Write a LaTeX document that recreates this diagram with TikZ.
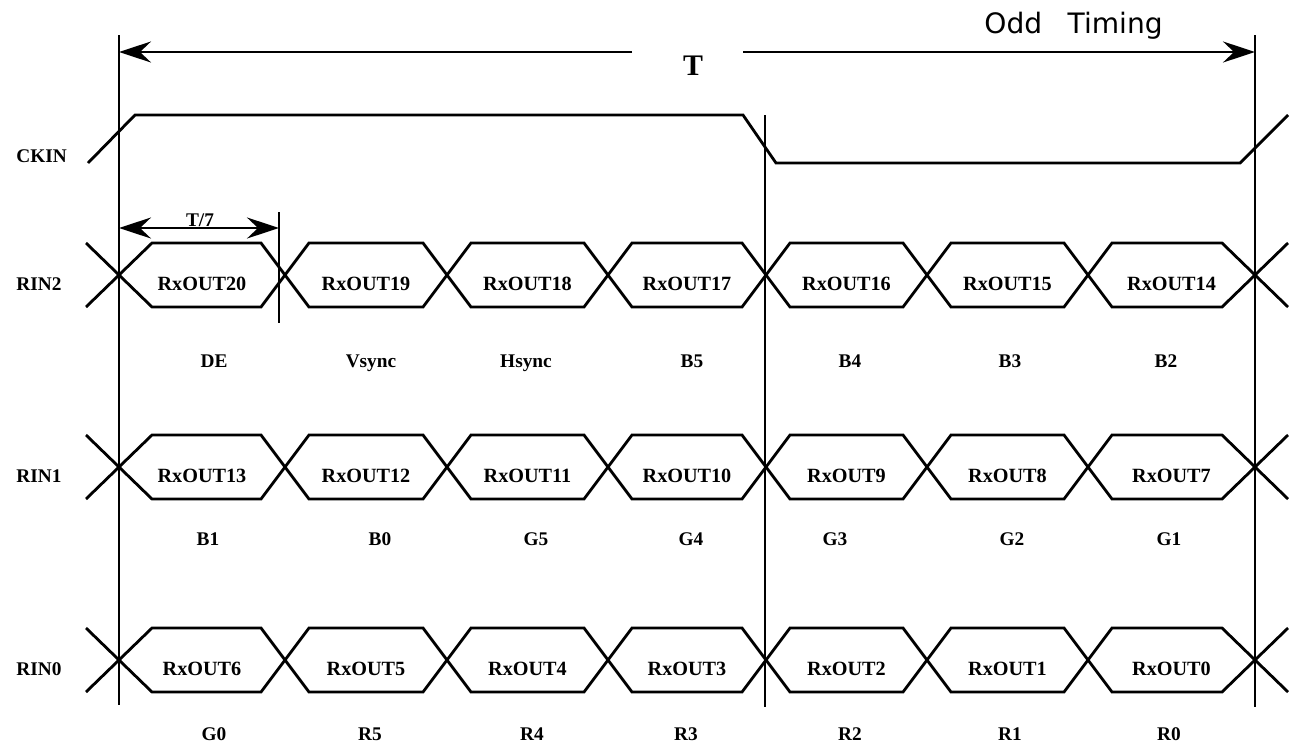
\documentclass[tikz,border=0pt]{standalone}
\usepackage{fontspec}
\setmainfont{Liberation Serif}
\newfontfamily\oddfont{DejaVu Sans}
\usetikzlibrary{arrows.meta}
\begin{document}
\begin{tikzpicture}[x=0.02cm, y=-0.02cm, line width=1.6pt,
    >={Stealth[length=0.64cm, width=0.42cm, inset=0.22cm]},
    lbl/.style={font=\bfseries\fontsize{11}{13}\selectfont, inner sep=0pt, anchor=base},
    bus/.style={font=\bfseries\fontsize{11.5}{13}\selectfont, inner sep=0pt, anchor=base}]
  \useasboundingbox (0,0) rectangle (1291,747);

  \coordinate (ltop) at (119,35);
  \coordinate (lbot) at (119,705);
  \coordinate (mtop) at (765,115);
  \coordinate (mbot) at (765,707);
  \coordinate (rtop) at (1255,35);
  \coordinate (rbot) at (1255,707);
  \draw (ltop) -- (lbot);
  \draw (mtop) -- (mbot);
  \draw (rtop) -- (rbot);

  \node[lbl, font=\bfseries\fontsize{17}{20}\selectfont] (T) at (693,75) {T};
  \coordinate (Tl) at (632,52);
  \coordinate (Tr) at (743,52);
  \draw[->] (Tl) -- (Tl -| ltop);
  \draw[->] (Tr) -- (Tr -| rtop);
  \node[anchor=base west, inner sep=0pt, font=\oddfont\fontsize{16}{19}\selectfont] (odd) at (983,33) {Odd\hspace{14.5pt}Timing};

  \node[lbl, anchor=base west] (ckin) at (15,162) {CKIN};
  \draw (88,163) -- (135,115) -- (743,115) -- (776,163) -- (1240,163) -- (1288,115);

  \coordinate (t7) at (279,228);
  \draw (279,212) -- (279,323);
  \draw[<->] (t7 -| ltop) -- (t7);
  \node[lbl] (t7lbl) at (200,226) {T/7};

  \foreach \r/\yc/\n in {2/275/20, 1/467/13, 0/660/6} {
    \node[lbl, anchor=base west] (rin\r) at (15,\yc+15) {RIN\r};
    \draw (86,\yc-32) -- (119,\yc) -- (86,\yc+32);
    \draw (1288,\yc-32) -- (1255,\yc) -- (1288,\yc+32);
    \foreach \a/\b/\da/\db [count=\i from 0] in {119/285/33/24, 285/447/24/24, 447/608/24/24,
        608/766/24/24, 766/927/24/24, 927/1088/24/24, 1088/1255/24/33} {
      \draw (\a,\yc) -- (\a+\da,\yc-32) -- (\b-\db,\yc-32) -- (\b,\yc)
        -- (\b-\db,\yc+32) -- (\a+\da,\yc+32) -- cycle;
      \pgfmathtruncatemacro{\k}{\n-\i}
      \node[bus] (rx\k) at ({(\a+\b)/2},\yc+15) {RxOUT\k};
    }
  }

  \foreach \x/\t [count=\i] in {214/DE, 371/Vsync, 526/Hsync, 692/B5, 850/B4, 1010/B3, 1166/B2}
    \node[lbl] (bitb\i) at (\x,367) {\t};
  \foreach \x/\t [count=\i] in {208/B1, 380/B0, 536/G5, 691/G4, 835/G3, 1012/G2, 1169/G1}
    \node[lbl] (bita\i) at (\x,545) {\t};
  \foreach \x/\t [count=\i] in {214/G0, 370/R5, 532/R4, 686/R3, 850/R2, 1010/R1, 1169/R0}
    \node[lbl] (bitz\i) at (\x,740) {\t};
\end{tikzpicture}
\end{document}
